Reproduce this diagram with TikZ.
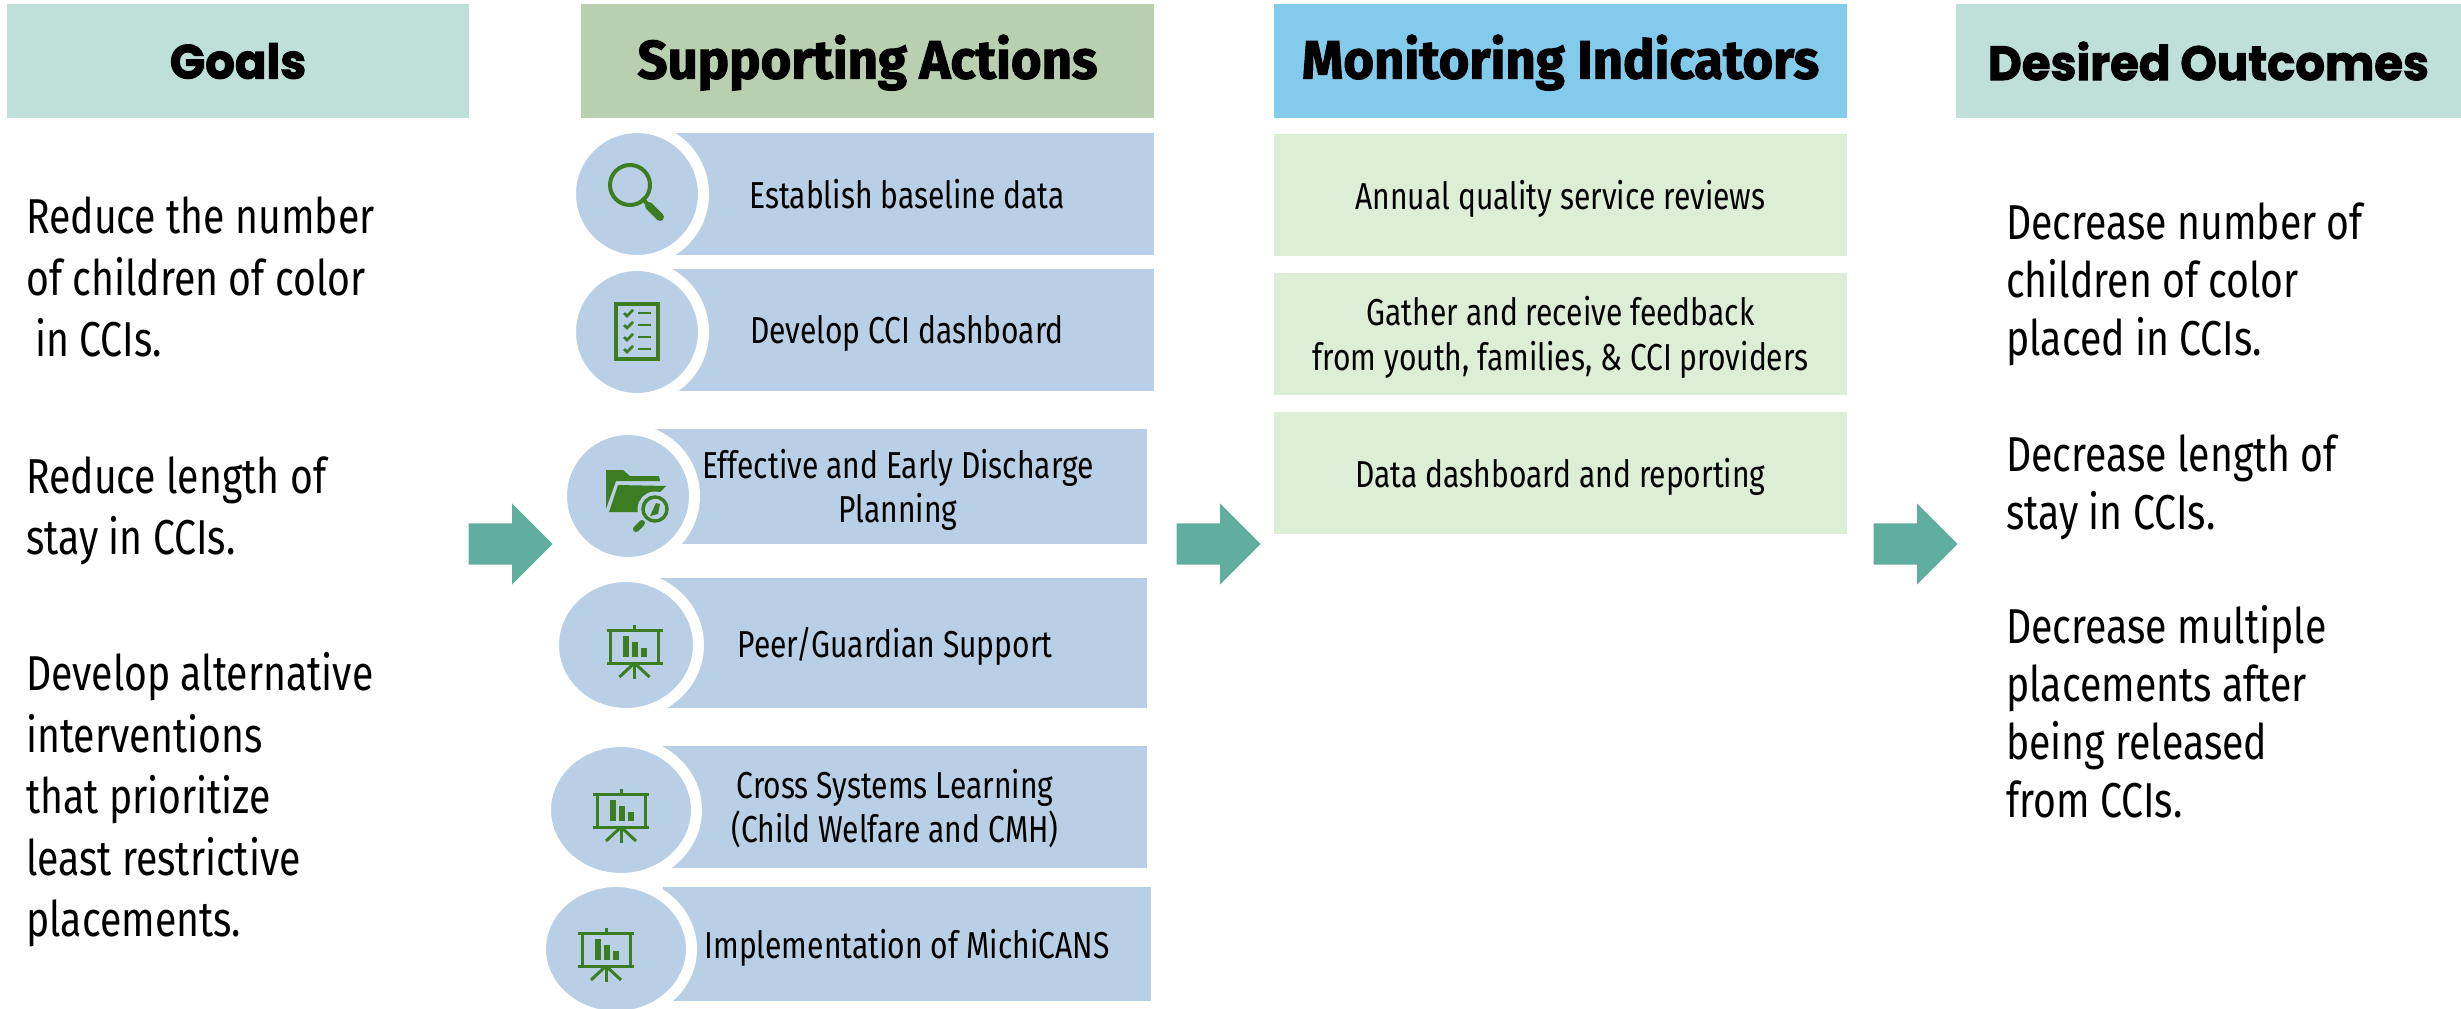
\documentclass[tikz,border=0pt]{standalone}
\usepackage{fontspec}
\setmainfont{Fira Sans}[FakeStretch=0.80]
\newfontfamily\headfont{Fira Sans}[FakeStretch=0.975,BoldFeatures={FakeBold=2}]
\newfontfamily\widefont{Poppins}[FakeStretch=0.97,BoldFeatures={FakeBold=2}]
\usetikzlibrary{shapes.geometric, shapes.arrows}
\definecolor{goalgreen}{HTML}{BFE0D9}
\definecolor{actiongreen}{HTML}{B8CFB0}
\definecolor{monitorblue}{HTML}{83CBEC}
\definecolor{actionblue}{HTML}{B8CFE5}
\definecolor{monitorgreen}{HTML}{DCEED5}
\definecolor{arrowteal}{HTML}{5FAE9E}
\definecolor{icongreen}{HTML}{3C7D22}
\tikzset{
  headbox/.style={minimum height=114pt, inner sep=0pt, text height=47pt, font=\fontsize{54}{60}\headfont\bfseries},
  widehead/.style={minimum height=114pt, inner sep=0pt, font=\fontsize{48}{60}\widefont\bfseries},
  actionbar/.style={fill=actionblue, minimum height=122pt, inner sep=0pt},
  barlabel/.style={inner sep=0pt, yshift=-3.5pt, align=center, font=\fontsize{37.5}{44}\selectfont},
  monitorbox/.style={fill=monitorgreen, minimum width=573pt, minimum height=122pt, inner sep=0pt},
  badge/.style={ellipse, fill=actionblue, draw=white, line width=11pt, inner sep=0pt},
  bodytext/.style={anchor=west, inner sep=0pt, align=left},
  goaltext/.style={bodytext, font=\fontsize{49}{61.5}\selectfont},
  outcometext/.style={bodytext, font=\fontsize{49}{58}\selectfont},
  flowarrow/.style={single arrow, anchor=tip, fill=arrowteal, minimum height=84pt, minimum width=81pt, single arrow head extend=20pt, inner xsep=0pt, inner ysep=20.5pt},
  iconline/.style={draw=icongreen, line width=3pt}
}
% presentation easel, #1 = centre x, #2 = top y
\newcommand{\easelicon}[2]{
  \begin{scope}[shift={(#1,#2)}]
    \draw[iconline] (0,0) -- (0,4);
    \draw[iconline] (-28,5) -- (28,5);
    \draw[iconline] (-24,5) rectangle (24,38);
    \draw[iconline] (-28,38) -- (28,38);
    \fill[icongreen] (-11.5,11) rectangle (-5.5,32);
    \fill[icongreen] (-2.5,17) rectangle (3.5,32);
    \fill[icongreen] (6.5,23) rectangle (12.5,32);
    \draw[iconline] (0,38) -- (0,54);
    \draw[iconline] (0,38) -- (-15,52);
    \draw[iconline] (0,38) -- (15,52);
  \end{scope}
}
\begin{document}
\begin{tikzpicture}[x=1pt, y=-1pt]
  \useasboundingbox (0,0) rectangle (2461,1009);

  % column heads
  \node[widehead, fill=goalgreen, minimum width=462pt] (goals) at (238,61) {Goals};
  \node[headbox, fill=actiongreen, minimum width=573pt] (actions) at (867.5,61) {Supporting Actions};
  \node[headbox, fill=monitorblue, minimum width=573pt] (monitoring) at (1560.5,61) {Monitoring Indicators};
  \node[widehead, fill=goalgreen, minimum width=505pt] (outcomes) at (2208.5,61) {Desired Outcomes};

  % goals
  \node[goaltext] (goalone) at (26,277) {Reduce the number\\of children of color\\\hspace{9pt}in CCIs.};
  \node[goaltext] (goaltwo) at (26,511) {Reduce length of\\stay in CCIs.};
  \node[goaltext] (goalthree) at (26,800) {Develop alternative\\interventions\\that prioritize\\least restrictive\\placements.};

  % actions
  \node[actionbar, minimum width=494pt] (baseline) at (907,194) {};
  \node[barlabel, yshift=3pt] (baselinelabel) at (baseline) {Establish baseline data};
  \node[badge, minimum width=133pt, minimum height=133pt] (baselinebadge) at (637,194) {};
  \node[actionbar, minimum width=494pt] (dashboard) at (907,330) {};
  \node[barlabel] (dashboardlabel) at (dashboard) {Develop CCI dashboard};
  \node[badge, minimum width=133pt, minimum height=133pt] (dashboardbadge) at (637,332) {};
  \node[actionbar, minimum width=498pt, minimum height=115pt] (discharge) at (898,486.5) {};
  \node[barlabel] (dischargelabel) at (discharge) {Effective and Early Discharge\\Planning};
  \node[badge, minimum width=133pt, minimum height=133pt] (dischargebadge) at (628,496) {};
  \node[actionbar, minimum width=504pt, minimum height=130pt] (peer) at (895,643) {};
  \node[barlabel] (peerlabel) at (peer) {Peer/Guardian Support};
  \node[badge, minimum width=145pt, minimum height=137pt] (peerbadge) at (626,645) {};
  \node[actionbar, minimum width=504pt] (cross) at (895,807) {};
  \node[barlabel, yshift=1.5pt] (crosslabel) at (cross) {Cross Systems Learning\\(Child Welfare and CMH)};
  \node[badge, minimum width=151pt, minimum height=137pt] (crossbadge) at (621,810) {};
  \node[actionbar, minimum width=488pt, minimum height=114pt] (michicans) at (907,944) {};
  \node[barlabel] (michicanslabel) at (michicans) {Implementation of MichiCANS};
  \node[badge, minimum width=151pt, minimum height=135pt] (michicansbadge) at (616,949) {};

  % magnifier
  \draw[iconline, line width=4pt] (630,185) circle[radius=20];
  \draw[iconline, line width=4pt] (642,198) -- (650,207);
  \draw[icongreen, line width=8pt, line cap=round] (649,206) -- (660,217);

  % checklist
  \draw[iconline, line width=4pt] (616,304) rectangle (658,359);
  \foreach \rowy in {313,325,337,349} {
    \draw[icongreen, line width=2.5pt] (624,\rowy) -- (627,\rowy+3) -- (633,\rowy-3);
    \draw[icongreen, line width=2.5pt] (638,\rowy) -- (651,\rowy);
  }

  % folder with lens
  \fill[icongreen] (606,470) -- (623,470) -- (630,476) -- (659,476) -- (660,481) -- (616,481) -- (606,509) -- cycle;
  \fill[icongreen] (618,485) -- (666,486) -- (655,497) -- (642,512) -- (609,512) -- cycle;
  \draw[actionblue, line width=7pt] (655,509) circle[radius=14];
  \draw[iconline, line width=3.5pt] (655,509) circle[radius=12];
  \fill[actionblue] (655,509) circle[radius=10];
  \fill[icongreen] (650,516) -- (656,503) -- (660,504) -- (658,514) -- cycle;
  \draw[icongreen, line width=6pt, line cap=round] (642,523) -- (636,529);

  \easelicon{634.5}{625}
  \easelicon{621}{789}
  \easelicon{606}{928}

  % monitoring
  \node[monitorbox] (reviews) at (1560.5,195) {};
  \node[barlabel] (reviewslabel) at (reviews) {Annual quality service reviews};
  \node[monitorbox] (feedback) at (1560.5,334) {};
  \node[barlabel, font=\fontsize{37.5}{45}\selectfont] (feedbacklabel) at (feedback) {Gather and receive feedback\\from youth, families, \& CCI providers};
  \node[monitorbox] (reporting) at (1560.5,473) {};
  \node[barlabel] (reportinglabel) at (reporting) {Data dashboard and reporting};

  % outcomes
  \node[outcometext] (outcomeone) at (2006,284) {Decrease number of\\children of color\\placed in CCIs.};
  \node[outcometext] (outcometwo) at (2006,487) {Decrease length of\\stay in CCIs.};
  \node[outcometext] (outcomethree) at (2006,712) {Decrease multiple\\placements after\\being released\\from CCIs.};

  % block arrows
  \node[flowarrow] (arrowone) at (553,544) {};
  \node[flowarrow] (arrowtwo) at (1261,544) {};
  \node[flowarrow] (arrowthree) at (1958,544) {};
\end{tikzpicture}
\end{document}
